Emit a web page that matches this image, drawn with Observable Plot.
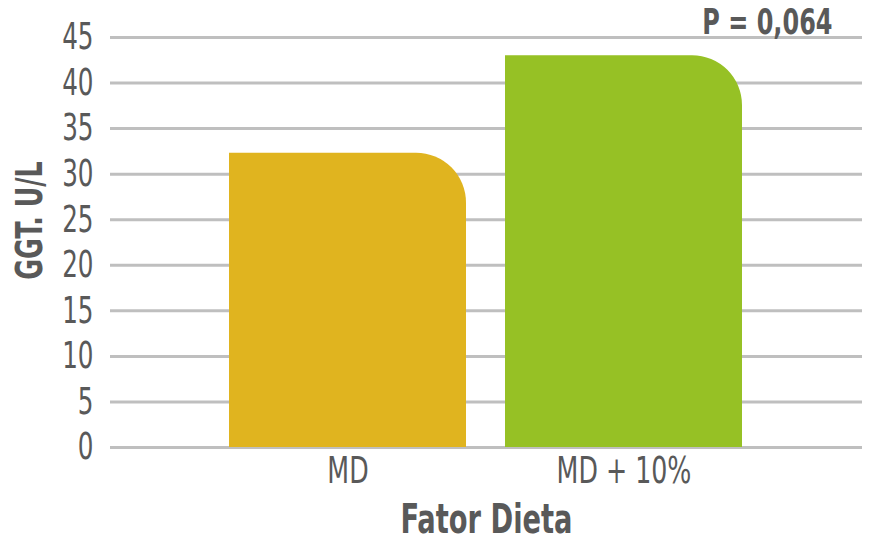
<!DOCTYPE html>
<html>
<head>
<meta charset="utf-8">
<script src="https://cdn.jsdelivr.net/npm/d3@7"></script>
<script src="https://cdn.jsdelivr.net/npm/@observablehq/plot@0.6"></script>
<style>
  html, body { margin: 0; padding: 0; background: #fff; }
  #chart svg { display: block; }
</style>
</head>
<body>
<div id="chart"></div>
<script>
const categories = ["MD", "MD + 10%"];
const values = [32.3, 43.0];
const colors = ["#E0B41F", "#96C125"];
const yTicks = [0, 5, 10, 15, 20, 25, 30, 35, 40, 45];
const yLabel = "GGT. U/L";
const xLabel = "Fator Dieta";
const pLabel = "P = 0,064";

const data = categories.map((c, i) => ({cat: c, value: values[i], color: colors[i]}));
const FONT = "'DejaVu Sans Condensed', 'Liberation Sans Narrow', sans-serif";
const TXT = "#595959";
const CORNER = 50;
const NARROW = 0.74;

function roundTopRight(index, scales, vals, dims, ctx, next) {
  const g = next(index, scales, vals, dims, ctx);
  g.querySelectorAll("rect").forEach(r => {
    const x = +r.getAttribute("x"), y = +r.getAttribute("y");
    const w = +r.getAttribute("width"), h = +r.getAttribute("height");
    const rr = Math.min(CORNER, w, h);
    const p = document.createElementNS("http://www.w3.org/2000/svg", "path");
    for (const a of Array.from(r.attributes)) {
      if (!["x", "y", "width", "height"].includes(a.name)) p.setAttribute(a.name, a.value);
    }
    p.setAttribute("d", `M${x},${y + h}V${y}H${x + w - rr}A${rr},${rr} 0 0 1 ${x + w},${y + rr}V${y + h}Z`);
    r.replaceWith(p);
  });
  return g;
}

const chart = Plot.plot({
  width: 874,
  height: 542,
  marginLeft: 110,
  marginRight: 12,
  marginTop: 37,
  marginBottom: 95,
  style: {fontFamily: FONT, color: TXT, background: "#fff"},
  x: {domain: categories, paddingInner: 0.14, paddingOuter: 0.43},
  y: {domain: [0, 45]},
  marks: [
    Plot.ruleY(yTicks, {stroke: "#bfbfbf", strokeWidth: 3}),
    Plot.barY(data, {x: "cat", y: "value", fill: "color", render: roundTopRight}),
    Plot.axisY({ticks: yTicks, tickSize: 0, tickPadding: 17, label: null, fontSize: 37, fill: TXT}),
    Plot.axisX({tickSize: 0, tickPadding: 9, label: null, fontSize: 38, fill: TXT}),
    Plot.text([yLabel], {frameAnchor: "left", dx: -81, dy: -22, rotate: -90, fontSize: 38, fontWeight: "bold", fill: TXT, lineAnchor: "middle", textAnchor: "middle"}),
    Plot.text([xLabel], {frameAnchor: "bottom", dy: 72, fontSize: 41, fontWeight: "bold", fill: TXT, lineAnchor: "middle", textAnchor: "middle"}),
    Plot.text([pLabel], {frameAnchor: "top-right", dx: -30, dy: -15, fontSize: 36, fontWeight: "bold", fill: TXT, lineAnchor: "middle", textAnchor: "end"})
  ]
});

document.getElementById("chart").appendChild(chart);

// condense text along its baseline to mimic the condensed face of the reference
chart.querySelectorAll("text").forEach(t => {
  if (t.querySelector("tspan")) return;
  const len = t.getComputedTextLength();
  if (len > 0) {
    t.setAttribute("textLength", (len * NARROW).toFixed(2));
    t.setAttribute("lengthAdjust", "spacingAndGlyphs");
  }
});
</script>
</body>
</html>
